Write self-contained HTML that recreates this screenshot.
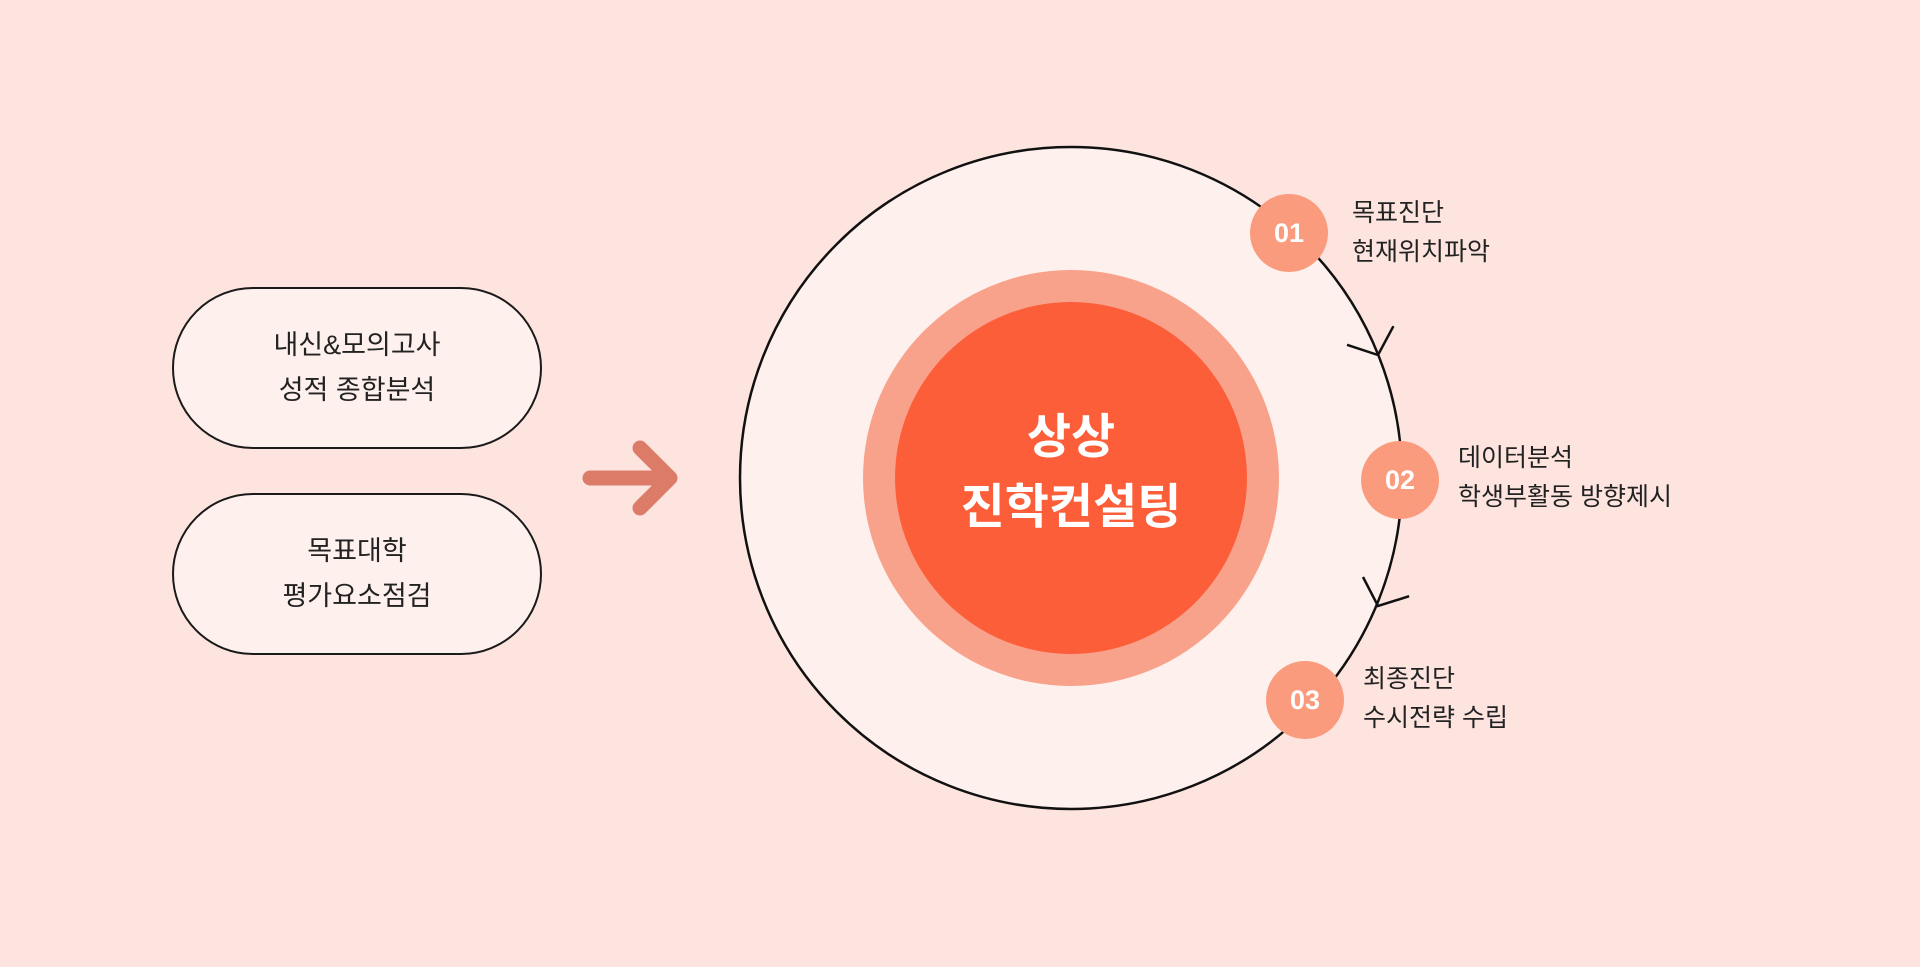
<!DOCTYPE html>
<html><head><meta charset="utf-8"><style>
html,body{margin:0;padding:0}
body{width:1920px;height:967px;background:#fde4df;position:relative;overflow:hidden;font-family:"Liberation Sans","Noto Sans CJK KR",sans-serif}
.pill{position:absolute;left:172px;width:370px;height:162px;border:2.5px solid #1a1a1a;border-radius:82px;background:#fef0ec;box-sizing:border-box;display:flex;align-items:center;justify-content:center;text-align:center;font-size:27px;line-height:45px;color:#222}
.lbl{position:absolute;font-size:25px;line-height:39px;color:#222}
.badge{position:absolute;width:78px;height:78px;border-radius:50%;background:#fb9b7d;color:#fff;font-weight:bold;font-size:27px;display:flex;align-items:center;justify-content:center}
</style></head><body>
<div class="pill" style="top:287px">내신&amp;모의고사<br>성적 종합분석</div>
<div class="pill" style="top:493px">목표대학<br>평가요소점검</div>
<svg width="1920" height="967" style="position:absolute;left:0;top:0">
<path d="M590 478 H668 M640 448 L670 478 L640 508" stroke="#dc7b68" stroke-width="15" fill="none" stroke-linecap="round" stroke-linejoin="round"/>
<circle cx="1071" cy="478" r="331" fill="#fef0ec" stroke="#111" stroke-width="2.5"/>
<circle cx="1071" cy="478" r="208" fill="#f9a28b"/>
<circle cx="1071" cy="478" r="176" fill="#fd5e3a"/>
<g transform="translate(1378,355) rotate(-21.8)"><path d="M-25 -21 L0 0 L25 -21" stroke="#111" stroke-width="2.5" fill="none"/></g>
<g transform="translate(1378,606) rotate(22.6)"><path d="M-25 -21 L0 0 L25 -21" stroke="#111" stroke-width="2.5" fill="none"/></g>
<text x="1071" y="453" text-anchor="middle" fill="#fff" font-size="48" font-weight="bold" font-family="Liberation Sans,Noto Sans CJK KR,sans-serif">상상</text>
<text x="1071" y="523" text-anchor="middle" fill="#fff" font-size="48" font-weight="bold" font-family="Liberation Sans,Noto Sans CJK KR,sans-serif">진학컨설팅</text>
</svg>
<div class="badge" style="left:1250px;top:194px">01</div>
<div class="badge" style="left:1361px;top:441px">02</div>
<div class="badge" style="left:1266px;top:661px">03</div>
<div class="lbl" style="left:1352px;top:194px">목표진단<br>현재위치파악</div>
<div class="lbl" style="left:1458px;top:439px">데이터분석<br>학생부활동 방향제시</div>
<div class="lbl" style="left:1363px;top:660px">최종진단<br>수시전략 수립</div>
</body></html>
